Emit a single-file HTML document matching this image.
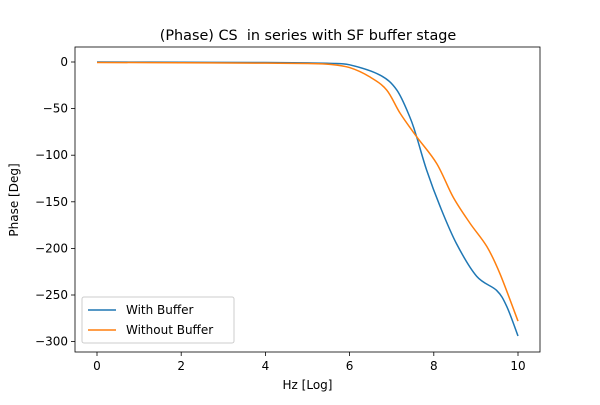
<!DOCTYPE html>
<html><head><meta charset="utf-8"><style>
body{margin:0;background:#fff;font-family:"Liberation Sans","DejaVu Sans",sans-serif}
svg text{font-family:"DejaVu Sans","Liberation Sans",sans-serif;fill:#000}
</style></head><body>
<svg id="c" width="600" height="400" xmlns="http://www.w3.org/2000/svg">
<rect width="600" height="400" fill="#fff"/>
<text x="308" y="40" font-size="14.4" text-anchor="middle">(Phase) CS&#160; in series with SF buffer stage</text>
<g id="plot"></g>
</svg>
<script>
const xBlue=[0,2,4,5,5.53,6,6.72,7.12,7.43,7.59,7.83,8.15,8.54,9.02,9.49,9.73,10];
const yBlue=[0,-0.3,-0.6,-1,-1.5,-3,-14,-30,-59,-80,-116,-155,-195,-230,-245,-262,-294];
const xOrange=[0,2,4,5,5.53,6,6.48,6.88,7.2,7.59,8.07,8.46,8.86,9.26,9.57,10];
const yOrange=[-0.5,-0.8,-1.2,-1.6,-2.5,-6,-16,-30,-55,-80,-109,-145,-173,-198,-227,-278];
const xTicks=[0,2,4,6,8,10];
const yTicks=[0,-50,-100,-150,-200,-250,-300];
const L=75,R=540,T=47,B=352;
const X=v=>97+v*42.1, Y=v=>62-v*0.932;
const NS="http://www.w3.org/2000/svg";
const g=document.getElementById('plot');
function mk(t,a){const e=document.createElementNS(NS,t);for(const k in a)e.setAttribute(k,a[k]);g.appendChild(e);return e;}
xTicks.forEach(v=>{
 const l=mk('line',{x1:X(v),x2:X(v),y1:B,y2:B+4,stroke:'#000','stroke-width':0.8});
 
 
 const t=mk('text',{x:X(v),y:B+18,'font-size':12,'text-anchor':'middle'});t.textContent=v;
 
 
});
yTicks.forEach(v=>{
 const l=mk('line',{x1:L-4,x2:L,y1:Y(v),y2:Y(v),stroke:'#000','stroke-width':0.8});
 
 
 const t=mk('text',{x:L-7,y:Y(v)+4,'font-size':12,'text-anchor':'end'});t.textContent=v===0?'0':'\u2212'+(-v);
 
 
});
function path(xs,ys){
 const p=xs.map((x,i)=>[X(x),Y(ys[i])]);
 let d='M'+p[0][0]+','+p[0][1];
 for(let i=0;i<p.length-1;i++){
  const p0=p[i-1]||p[i],p1=p[i],p2=p[i+1],p3=p[i+2]||p2;
  d+=' C'+(p1[0]+(p2[0]-p0[0])/6)+','+(p1[1]+(p2[1]-p0[1])/6)+' '+(p2[0]-(p3[0]-p1[0])/6)+','+(p2[1]-(p3[1]-p1[1])/6)+' '+p2[0]+','+p2[1];
 }
 return d;
}
const pb=mk('path',{d:path(xBlue,yBlue),stroke:'#1f77b4','stroke-width':1.5,fill:'none'});


const po=mk('path',{d:path(xOrange,yOrange),stroke:'#ff7f0e','stroke-width':1.5,fill:'none'});


const fr=mk('rect',{x:L,y:T,width:R-L,height:B-T,fill:'none',stroke:'#000','stroke-width':0.8});


const xl=mk('text',{x:(L+R)/2,y:389,'font-size':12,'text-anchor':'middle'});xl.textContent='Hz [Log]';


const yl=mk('text',{x:18,y:200,'font-size':12,'text-anchor':'middle',transform:'rotate(-90 18 200)'});yl.textContent='Phase [Deg]';


const lg=mk('rect',{x:82,y:297,width:152,height:46,fill:'#fff',stroke:'#ccc','stroke-width':1,rx:2});


[['With Buffer','#1f77b4',310],['Without Buffer','#ff7f0e',330]].forEach(([n,c,y])=>{
 const l=mk('line',{x1:88,x2:116,y1:y,y2:y,stroke:c,'stroke-width':1.5});
 
 
 const t=mk('text',{x:126,y:y+4,'font-size':12});t.textContent=n;
 
 
});
</script>
</body></html>
